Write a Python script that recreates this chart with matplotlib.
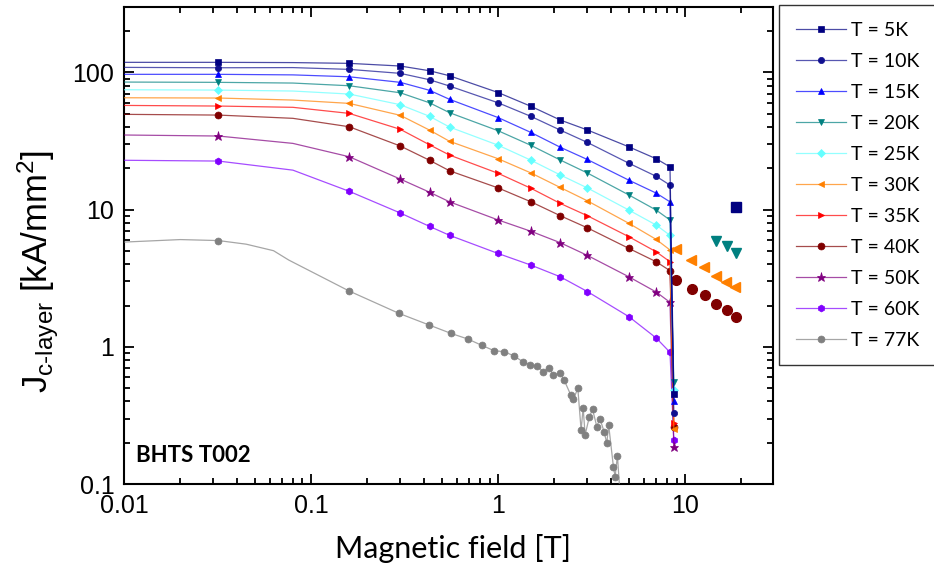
import matplotlib
matplotlib.use("Agg")
import matplotlib.pyplot as plt
from matplotlib.ticker import LogLocator, NullFormatter

plt.rcParams["mathtext.fontset"] = "custom"
plt.rcParams["mathtext.rm"] = "Liberation Sans"
plt.rcParams["mathtext.it"] = "Liberation Sans:italic"

# ── Data ─────────────────────────────────────────────────────

# common field grid [T] for the 5 K ... 60 K sweeps, last point = drop at ~8.7 T
FIELD = [0.01, 0.032, 0.08, 0.16, 0.30, 0.43, 0.55, 1.0, 1.5, 2.15,
         3.0, 5.0, 7.0, 8.3, 8.7]

JC_5K  = [118.5, 118.5, 118.0, 116.5, 111.4, 102.9, 94.6, 71.4, 56.6, 45.0, 38.1, 28.7, 23.5, 20.5, 0.45]
JC_10K = [108.9, 108.2, 108.5, 105.3, 98.5, 88.5, 79.6, 60.1, 47.8, 38.0, 30.9, 21.8, 17.5, 15.1, 0.33]
JC_15K = [96.9, 96.9, 96.0, 93.0, 84.7, 74.1, 63.7, 46.9, 36.5, 28.5, 23.2, 16.4, 13.2, 11.4, 0.40]
JC_20K = [85.1, 84.7, 83.7, 80.0, 71.1, 60.1, 50.9, 37.6, 29.4, 23.0, 18.5, 12.8, 9.93, 8.4, 0.556]
JC_25K = [74.8, 74.4, 73.2, 69.6, 58.2, 47.9, 40.0, 29.5, 22.9, 17.9, 14.4, 9.93, 7.72, 6.5, 0.487]
JC_30K = [65.4, 65.1, 62.9, 59.5, 48.7, 38.0, 31.5, 23.5, 18.5, 14.5, 11.6, 7.95, 6.07, 5.08, 0.25]
JC_35K = [57.5, 56.9, 55.7, 50.3, 38.5, 29.7, 25.0, 18.4, 14.3, 11.1, 9.03, 6.35, 4.93, 4.17, 0.278]
JC_40K = [49.5, 48.9, 46.3, 40.2, 29.1, 22.9, 19.2, 14.4, 11.4, 9.03, 7.37, 5.22, 4.17, 3.59, 0.26]
JC_50K = [35.0, 34.4, 30.4, 24.3, 16.7, 13.4, 11.4, 8.41, 6.95, 5.74, 4.64, 3.24, 2.51, 2.11, 0.187]
JC_60K = [22.9, 22.6, 19.4, 13.6, 9.45, 7.55, 6.50, 4.79, 3.94, 3.24, 2.53, 1.66, 1.16, 0.912, 0.209]

# 77 K sweep (own field values, noisy above ~2.5 T)
FIELD_77K = [0.01, 0.02, 0.032, 0.045, 0.063, 0.076, 0.16, 0.295, 0.428, 0.559,
             0.689, 0.818, 0.952, 1.081, 1.218, 1.356, 1.483, 1.611, 1.747, 1.874,
             1.976, 2.146, 2.254, 2.448, 2.527, 2.669, 2.779, 2.85, 2.919, 3.077,
             3.2, 3.372, 3.5, 3.688, 3.813, 3.9, 4.135, 4.224, 4.345, 4.5]
JC_77K = [5.8, 6.05, 5.95, 5.6, 5.02, 4.29, 2.55, 1.754, 1.442, 1.254,
          1.140, 1.025, 0.937, 0.921, 0.857, 0.779, 0.737, 0.725, 0.659, 0.704,
          0.623, 0.641, 0.573, 0.445, 0.414, 0.498, 0.247, 0.36, 0.228, 0.309,
          0.35, 0.262, 0.30, 0.241, 0.198, 0.27, 0.134, 0.113, 0.161, 0.08]

# isolated high-field points (markers only)
HF_FIELD_5K  = [18.7]
HF_JC_5K     = [10.5]
HF_FIELD_20K = [14.7, 16.7, 18.7]
HF_JC_20K    = [5.90, 5.43, 4.85]
HF_FIELD_30K = [8.9, 10.7, 12.6, 14.6, 16.6, 18.5]
HF_JC_30K    = [5.14, 4.29, 3.80, 3.30, 2.98, 2.72]
HF_FIELD_40K = [8.9, 10.9, 12.7, 14.7, 16.7, 18.7]
HF_JC_40K    = [3.07, 2.62, 2.39, 2.05, 1.85, 1.66]

LABELS = ["T = 5K", "T = 10K", "T = 15K", "T = 20K", "T = 25K", "T = 30K",
          "T = 35K", "T = 40K", "T = 50K", "T = 60K", "T = 77K"]

# ── Styles ────────────────────────────────────────────────────

COLORS  = ["#000080", "#101090", "#0000ff", "#008080", "#66ffff", "#ff8000",
           "#ff0000", "#800000", "#800080", "#8000ff", "#808080"]
MARKERS = ["s", "o", "^", "v", "D", "<", ">", "o", "*", "h", "o"]
MSIZES  = [4.5, 4.5, 5, 5, 4.5, 5, 5, 5, 6.5, 5, 5]

series = [(FIELD, JC_5K), (FIELD, JC_10K), (FIELD, JC_15K), (FIELD, JC_20K),
          (FIELD, JC_25K), (FIELD, JC_30K), (FIELD, JC_35K), (FIELD, JC_40K),
          (FIELD, JC_50K), (FIELD, JC_60K), (FIELD_77K, JC_77K)]

extras = {0: (HF_FIELD_5K, HF_JC_5K), 3: (HF_FIELD_20K, HF_JC_20K),
          5: (HF_FIELD_30K, HF_JC_30K), 7: (HF_FIELD_40K, HF_JC_40K)}

# ── Plot ──────────────────────────────────────────────────────

fig = plt.figure(figsize=(9.34, 5.75), dpi=100)
ax = fig.add_axes([124 / 934, 1 - 484 / 575, 649 / 934, 477 / 575])

handles = []
for i, ((bx, jy), label) in enumerate(zip(series, LABELS)):
    col = matplotlib.colors.to_rgba(COLORS[i])
    line_col = (col[0], col[1], col[2], 0.7)
    if i < 10:
        mark = [k for k in range(len(bx)) if k not in (0, 2)]
    else:
        mark = [k for k in range(len(bx)) if k not in (0, 1, 3, 4, 5)]
    h, = ax.plot(bx, jy, color=line_col, lw=0.9,
                 marker=MARKERS[i], markersize=MSIZES[i], markevery=mark,
                 markerfacecolor=COLORS[i], markeredgecolor=COLORS[i],
                 markeredgewidth=0.5, label=label, zorder=3 + (10 - i) * 0.01)
    handles.append(h)
    if i in extras:
        ex, ey = extras[i]
        ax.plot(ex, ey, ls="none", marker=MARKERS[i], markersize=7,
                color=COLORS[i], zorder=3)

ax.set_xscale("log")
ax.set_yscale("log")
ax.set_xlim(0.01, 29.5)
ax.set_ylim(0.1, 300)

ax.set_xticks([0.01, 0.1, 1, 10])
ax.set_xticklabels(["0.01", "0.1", "1", "10"])
ax.set_yticks([0.1, 1, 10, 100])
ax.set_yticklabels(["0.1", "1", "10", "100"])
ax.xaxis.set_minor_locator(LogLocator(base=10, subs=range(2, 10), numticks=20))
ax.yaxis.set_minor_locator(LogLocator(base=10, subs=range(2, 10), numticks=20))
ax.xaxis.set_minor_formatter(NullFormatter())
ax.yaxis.set_minor_formatter(NullFormatter())

ax.tick_params(which="both", direction="in", top=True, right=True, width=1.3)
ax.tick_params(which="major", length=7, labelsize=18, pad=7)
ax.tick_params(which="minor", length=4)
for lab in ax.get_xticklabels() + ax.get_yticklabels():
    lab.set_family("Liberation Sans")
for sp in ax.spines.values():
    sp.set_linewidth(1.5)

ax.set_xlabel("Magnetic field [T]", family="Lato", fontsize=22)
ax.xaxis.set_label_coords(0.507, -0.105)
ax.set_ylabel(r"$\mathrm{J_{c\text{-}layer}}$ [kA/mm$^{2}$]",
              family="Liberation Sans", fontsize=25)
ax.yaxis.set_label_coords(-0.097, 0.445)

ax.text(0.0185, 0.047, "BHTS T002", transform=ax.transAxes,
        family="Lato", fontweight="bold", fontsize=16)

leg = fig.legend(handles=handles, loc="upper left",
                 bbox_to_anchor=(779 / 934, 1 - 5 / 575), borderaxespad=0,
                 frameon=True, fancybox=False, edgecolor="black",
                 prop={"family": "Lato", "size": 14},
                 handlelength=2.6, handletextpad=0.25, labelspacing=0.72,
                 borderpad=0.85, markerscale=1.0)
leg.get_frame().set_linewidth(1.0)

fig.savefig("out.png", dpi=100)
